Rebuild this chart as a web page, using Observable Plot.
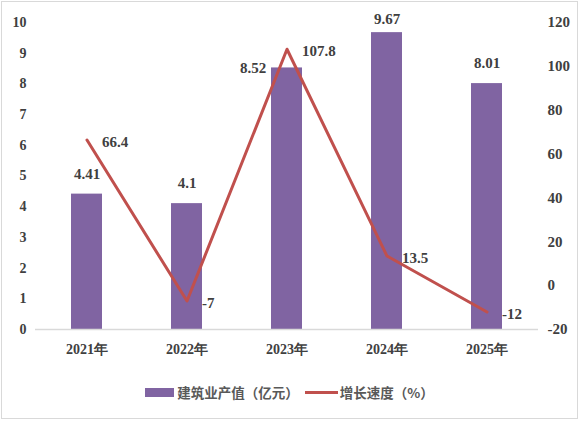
<!DOCTYPE html>
<html><head><meta charset="utf-8">
<script src="https://cdn.jsdelivr.net/npm/d3@7"></script>
<script src="https://cdn.jsdelivr.net/npm/@observablehq/plot@0.6"></script>
<style>
html,body{margin:0;padding:0;background:#fff;}
#page{position:relative;width:579px;height:422px;overflow:hidden;}
#chart{position:absolute;left:0;top:0;}
#chart svg, #chart svg text{font-family:'Liberation Serif','Times New Roman',Tinos,serif !important;font-weight:bold;}
#border{position:absolute;left:1px;top:1px;width:575px;height:416px;border:1px solid #d9d9d9;pointer-events:none;}
#legend{position:absolute;left:0;top:382px;width:579px;height:20px;display:flex;align-items:center;justify-content:center;
  font-family:'Noto Sans CJK SC','Noto Sans',sans-serif;font-weight:bold;font-size:13.5px;color:#595959;}
.sw-bar{width:29px;height:9px;background:#8064A2;margin-right:3px;}
.sw-line{width:33px;height:3px;background:#C0504D;margin-left:6px;margin-right:2px;}
</style></head><body>
<div id="page">
  <div id="chart"></div>
  <div id="legend"><span class="sw-bar"></span><span id="lg1"></span><span class="sw-line"></span><span id="lg2"></span></div>
  <div id="border"></div>
</div>
<script>
const years = ["2021年", "2022年", "2023年", "2024年", "2025年"];
const outputValues = [4.41, 4.1, 8.52, 9.67, 8.01];
const growthValues = [66.4, -7, 107.8, 13.5, -12];
const leftTicks = [0, 1, 2, 3, 4, 5, 6, 7, 8, 9, 10];
const rightTicks = [-20, 0, 20, 40, 60, 80, 100, 120];
const seriesNames = ["建筑业产值（亿元）", "增长速度（%）"];

document.getElementById("lg1").textContent = seriesNames[0];
document.getElementById("lg2").textContent = seriesNames[1];

// map right axis (-20..120) onto left axis (0..10)
const toLeft = p => (p - rightTicks[0]) / ((rightTicks[rightTicks.length - 1] - rightTicks[0]) / 10);
const fromLeft = v => v * ((rightTicks[rightTicks.length - 1] - rightTicks[0]) / 10) + rightTicks[0];

const rows = years.map((year, i) => ({year, i, output: outputValues[i], growth: growthValues[i], g: toLeft(growthValues[i])}));

const labelFont = {fontSize: 15, fontWeight: "bold", fill: "#404040"};

const chart = Plot.plot({
  width: 579, height: 380,
  marginLeft: 35, marginRight: 41, marginTop: 22, marginBottom: 51,
  style: {fontWeight: "bold", color: "#404040", background: "transparent", overflow: "visible"},
  x: {domain: years, paddingInner: 0.69, paddingOuter: 0.345, label: null},
  y: {domain: [0, 10], label: null},
  marks: [
    Plot.barY(rows, {x: "year", y: "output", fill: "#8064A2"}),
    Plot.ruleY([0], {stroke: "#d9d9d9", strokeWidth: 1.5}),
    Plot.axisX({tickSize: 0, tickPadding: 15, fontSize: 14, label: null}),
    Plot.axisY({ticks: leftTicks, anchor: "left", tickSize: 0, tickPadding: 9, fontSize: 14, label: null}),
    Plot.axisY({ticks: rightTicks.map(toLeft), anchor: "right", tickSize: 0, tickPadding: 9, fontSize: 15, label: null,
      tickFormat: d => String(Math.round(fromLeft(d)))}),
    Plot.line(rows, {x: "year", y: "g", stroke: "#C0504D", strokeWidth: 3}),
    // bar value labels
    Plot.text(rows.filter(d => d.i === 0 || d.i === 1 || d.i === 4), {x: "year", y: "output", text: d => String(d.output), dy: -20, ...labelFont}),
    Plot.text(rows.filter(d => d.i === 3), {x: "year", y: "output", text: d => String(d.output), dy: -13, ...labelFont}),
    Plot.text(rows.filter(d => d.i === 2), {x: "year", y: "output", text: d => String(d.output), dx: -34, dy: 0, ...labelFont}),
    // line value labels
    Plot.text(rows, {x: "year", y: "g", text: d => String(d.growth), textAnchor: "start", dx: 15, dy: 2, ...labelFont})
  ]
});
document.getElementById("chart").appendChild(chart);
</script>
</body></html>
